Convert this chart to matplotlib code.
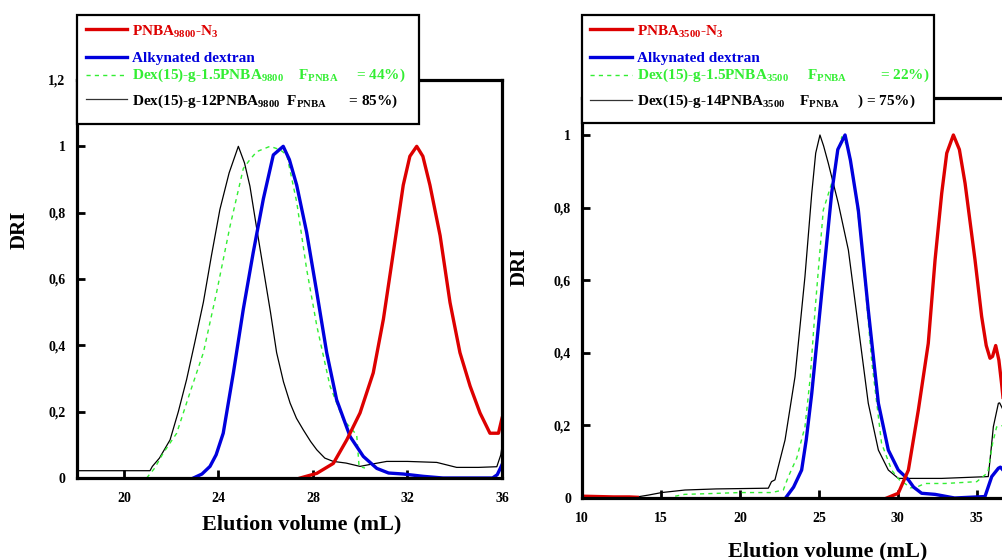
import matplotlib
matplotlib.use("Agg")
import matplotlib.pyplot as plt
from matplotlib.patches import Rectangle
from matplotlib.lines import Line2D
import numpy as np

plt.rcParams["font.family"] = ["Liberation Serif", "DejaVu Serif"]
plt.rcParams["font.weight"] = "bold"
plt.rcParams["mathtext.fontset"] = "custom"
plt.rcParams["mathtext.rm"] = "Liberation Serif:bold"
plt.rcParams["mathtext.it"] = "Liberation Serif:bold"
plt.rcParams["mathtext.bf"] = "Liberation Serif:bold"
plt.rcParams["mathtext.default"] = "rm"

# ---- left panel: PNBA 9800 ----
l_red_x = [27.46, 28.16, 28.86, 29.43, 29.99, 30.55, 30.98, 31.4, 31.82, 32.1, 32.39, 32.65,
           32.95, 33.38, 33.8, 34.22, 34.65, 35.07, 35.49, 35.85, 36.0]
l_red_y = [0, 0.014, 0.044, 0.115, 0.196, 0.317, 0.479, 0.68, 0.883, 0.97, 1.0, 0.97,
           0.883, 0.731, 0.529, 0.378, 0.277, 0.196, 0.135, 0.135, 0.18]

l_blue_x = [22.94, 23.3, 23.64, 23.9, 24.2, 24.63, 25.05, 25.47, 25.9, 26.32, 26.74, 27.0,
            27.31, 27.73, 28.16, 28.58, 29.0, 29.57, 30.13, 30.7, 31.2, 31.82, 32.67, 33.5,
            35.6, 35.8, 36.0]
l_blue_y = [0, 0.012, 0.035, 0.07, 0.135, 0.317, 0.509, 0.68, 0.842, 0.974, 1.0, 0.96,
            0.883, 0.741, 0.56, 0.378, 0.236, 0.125, 0.065, 0.029, 0.015, 0.012, 0.005, 0,
            0, 0.01, 0.04]

l_green_x = [20.96, 21.3, 21.66, 22.23, 22.79, 23.36, 23.92, 24.49, 25.05, 25.33, 25.62, 26.18,
             26.6, 26.89, 27.31, 27.73, 28.16, 28.72, 29.28, 29.85, 29.95, 30.2]
l_green_y = [0, 0.03, 0.075, 0.135, 0.257, 0.378, 0.56, 0.76, 0.933, 0.96, 0.984, 1.0,
             0.99, 0.974, 0.832, 0.63, 0.459, 0.277, 0.176, 0.13, 0.035, 0.03]

l_black_x = [18.0, 21.1, 21.2, 21.5, 21.95, 22.3, 22.65, 23.0, 23.36, 23.7, 24.06, 24.45,
             24.84, 25.1, 25.33, 25.6, 25.9, 26.2, 26.46, 26.75, 27.03, 27.3, 27.59, 27.9,
             28.16, 28.5, 28.86, 29.4, 29.99, 30.5, 31.12, 32.0, 33.24, 34.08, 35.0, 35.78,
             35.95, 36.0]
l_black_y = [0.022, 0.022, 0.035, 0.06, 0.115, 0.2, 0.297, 0.41, 0.53, 0.67, 0.81, 0.92,
             1.0, 0.95, 0.88, 0.76, 0.63, 0.5, 0.378, 0.29, 0.226, 0.18, 0.145, 0.11,
             0.085, 0.06, 0.05, 0.045, 0.035, 0.042, 0.05, 0.05, 0.047, 0.032, 0.032, 0.034,
             0.07, 0.095]

# ---- right panel: PNBA 3500 ----
r_red_x = [10, 11, 12, 13, 13.5, np.nan, 29.3, 30.03, 30.67, 31.3, 31.93, 32.36, 32.78, 33.1,
           33.52, 33.9, 34.26, 34.89, 35.31, 35.6, 35.84, 36.0, 36.2, 36.4, 36.57, 36.8]
r_red_y = [0.005, 0.004, 0.003, 0.003, 0.002, np.nan, 0, 0.013, 0.077, 0.242, 0.426, 0.656,
           0.839, 0.95, 1.0, 0.96, 0.867, 0.656, 0.5, 0.42, 0.385, 0.39, 0.42, 0.38, 0.316, 0.22]

r_blue_x = [22.96, 23.4, 23.91, 24.2, 24.55, 25.18, 25.81, 26.2, 26.66, 27.0, 27.5, 28.13,
            28.77, 29.4, 30.03, 30.4, 30.67, 31.0, 31.51, 32.36, 33.6, 35.52, 35.95, 36.37,
            36.5, 36.7]
r_blue_y = [0.004, 0.03, 0.077, 0.16, 0.288, 0.564, 0.839, 0.96, 1.0, 0.93, 0.793, 0.518,
            0.261, 0.132, 0.077, 0.062, 0.05, 0.03, 0.013, 0.01, 0.0, 0.004, 0.059, 0.082,
            0.085, 0.075]

r_green_x = [15.9, 16.5, 18, 20, 22.0, 22.75, 23.07, 23.6, 24.12, 24.45, 24.76, 25.28, 25.81,
             26.2, 26.45, 26.8, 27.08, 27.71, 28.34, 28.97, 29.61, 30.1, 30.45, 30.8, 31.2,
             31.72, 33, 35.0, 35.7, 36.0, 36.26, 36.7]
r_green_y = [0.005, 0.01, 0.012, 0.015, 0.015, 0.022, 0.059, 0.11, 0.196, 0.33, 0.518, 0.793,
             0.867, 0.95, 0.995, 0.97, 0.922, 0.70, 0.38, 0.151, 0.077, 0.05, 0.04, 0.028,
             0.03, 0.04, 0.04, 0.045, 0.07, 0.15, 0.196, 0.2]

r_black_x = [13.5, 14.2, 15.05, 16.52, 18.5, 21.8, 22.0, 22.22, 22.86, 23.49, 24.12, 24.55,
             24.8, 25.07, 25.3, 25.6, 26.23, 26.87, 27.5, 28.13, 28.77, 29.4, 30.03, 31.5,
             32.78, 35.73, 35.9, 36.05, 36.37, 36.45, 36.7]
r_black_y = [0.003, 0.008, 0.015, 0.022, 0.025, 0.027, 0.045, 0.05, 0.16, 0.334, 0.61, 0.839,
             0.95, 1.0, 0.97, 0.922, 0.812, 0.683, 0.472, 0.261, 0.132, 0.077, 0.054, 0.054,
             0.054, 0.059, 0.13, 0.196, 0.261, 0.262, 0.24]

left_xticks = [20, 24, 28, 32, 36]
left_yticks = [0, 0.2, 0.4, 0.6, 0.8, 1.0, 1.2]
right_xticks = [10, 15, 20, 25, 30, 35]
right_yticks = [0, 0.2, 0.4, 0.6, 0.8, 1.0]

left_labels = ["PNBA$_{9800}$-N$_{3}$",
               "Alkynated dextran",
               "Dex(15)-g-1.5PNBA$_{9800}$    F$_{PNBA}$     = 44%)",
               "Dex(15)-g-12PNBA$_{9800}$  F$_{PNBA}$      = 85%)"]
right_labels = ["PNBA$_{3500}$-N$_{3}$",
                "Alkynated dextran",
                "Dex(15)-g-1.5PNBA$_{3500}$     F$_{PNBA}$         = 22%)",
                "Dex(15)-g-14PNBA$_{3500}$    F$_{PNBA}$     ) = 75%)"]

RED = "#dd0000"
BLUE = "#0000dd"
GREEN = "#33ee33"
W, H = 1002, 560


def fx(x):
    return x / W


def fy(y):
    return 1 - y / H


def comma(v):
    s = ("%.1f" % v).rstrip("0").rstrip(".")
    return s.replace(".", ",")


def style_axes(ax, xticks, yticks):
    for sp in ax.spines.values():
        sp.set_linewidth(2.3)
    ax.set_xticks(xticks)
    ax.set_xticklabels([str(t) for t in xticks])
    ax.set_yticks(yticks)
    ax.set_yticklabels([comma(t) for t in yticks])
    ax.tick_params(direction="in", length=6, width=2, labelsize=10)
    ax.tick_params(axis="x", pad=10)
    ax.tick_params(axis="y", pad=8)
    for lab in ax.get_xticklabels() + ax.get_yticklabels():
        lab.set_fontweight("bold")


def draw_legend(fig, box, handle_x, text_x, rows, labels):
    x0, y0, x1, y1 = box
    fig.add_artist(Rectangle((fx(x0), fy(y1)), fx(x1 - x0), (y1 - y0) / H,
                             transform=fig.transFigure, facecolor="white",
                             edgecolor="black", lw=1.6, zorder=5))
    styles = [dict(color=RED, lw=2.4, ls="-"),
              dict(color=BLUE, lw=2.4, ls="-"),
              dict(color=GREEN, lw=1.0, ls=(0, (3, 3))),
              dict(color="#333333", lw=0.9, ls="-")]
    tcolors = [RED, BLUE, GREEN, "black"]
    for (ly, ty), st, lab, tc in zip(rows, styles, labels, tcolors):
        fig.add_artist(Line2D([fx(handle_x[0]), fx(handle_x[1])], [fy(ly), fy(ly)],
                              transform=fig.transFigure, zorder=6, **st))
        fig.text(fx(text_x), fy(ty), lab, color=tc, fontsize=11, fontweight="bold",
                 va="baseline", ha="left", zorder=6)


fig = plt.figure(figsize=(10.02, 5.6), dpi=100)

# left axes
ax1 = fig.add_axes([fx(76.75), fy(478), fx(502 - 76.75), (478 - 80) / H])
ax1.plot(l_black_x, l_black_y, color="black", lw=0.9)
ax1.plot(l_green_x, l_green_y, color=GREEN, lw=1.0, ls=(0, (3, 3)))
ax1.plot(l_blue_x, l_blue_y, color=BLUE, lw=2.4)
ax1.plot(l_red_x, l_red_y, color=RED, lw=2.4)
ax1.set_xlim(18, 36)
ax1.set_ylim(0, 1.2)
style_axes(ax1, left_xticks, left_yticks)

# right axes (runs off the right edge, as in the source)
ax2 = fig.add_axes([fx(582), fy(498), fx(30 * 15.79), (498 - 98) / H])
ax2.plot(r_black_x, r_black_y, color="black", lw=0.9)
ax2.plot(r_green_x, r_green_y, color=GREEN, lw=1.0, ls=(0, (3, 3)))
ax2.plot(r_blue_x, r_blue_y, color=BLUE, lw=2.4)
ax2.plot(r_red_x, r_red_y, color=RED, lw=2.4)
ax2.set_xlim(10, 40)
ax2.set_ylim(0, 400 / 363)
style_axes(ax2, right_xticks, right_yticks)

fig.text(fx(302), fy(524), "Elution volume (mL)", fontsize=16, fontweight="bold",
         ha="center", va="center")
fig.text(fx(828), fy(551), "Elution volume (mL)", fontsize=16, fontweight="bold",
         ha="center", va="center")
fig.text(fx(20), fy(230), "DRI", fontsize=15, fontweight="bold", rotation=90,
         ha="center", va="center")
fig.text(fx(520), fy(267), "DRI", fontsize=15, fontweight="bold", rotation=90,
         ha="center", va="center")

draw_legend(fig, (77, 15, 419, 124), (86, 127), 132,
            [(29, 36), (57, 62), (75, 79), (99, 105)], left_labels)
draw_legend(fig, (582, 15, 934, 123), (590, 632), 637,
            [(29, 36), (57, 62), (75, 79), (100, 105)], right_labels)

fig.savefig("out.png", dpi=100)
